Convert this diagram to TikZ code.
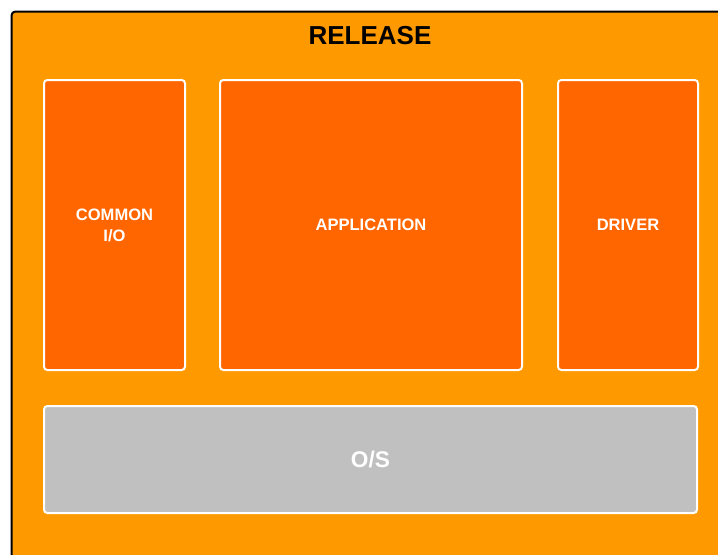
\documentclass[tikz,border=0pt]{standalone}
\usepackage{fontspec}
\setmainfont{Liberation Sans}
\usepackage{xcolor}
\usetikzlibrary{positioning}
\definecolor{relorange}{HTML}{FF9900}
\definecolor{partorange}{HTML}{FF6600}
\definecolor{osgray}{HTML}{C0C0C0}
\tikzset{
    rel frame/.style={draw=black, line width=1.5pt, fill=relorange, rounded corners=3pt},
    rel title/.style={font=\fontsize{19.5}{23}\selectfont\bfseries, text=black},
    rel part/.style={
        draw=white,
        line width=1.5pt,
        rounded corners=2.5pt,
        fill=partorange,
        minimum width=105.75pt,
        minimum height=217.5pt,
        align=center,
        text=white,
        inner sep=0pt,
        font=\fontsize{12.4}{15.8}\selectfont\bfseries
    },
    rel os/.style={rel part, fill=osgray, font=\fontsize{17}{20}\selectfont\bfseries}
}

\begin{document}
\begin{tikzpicture}[x=0.75pt, y=-0.75pt]
\useasboundingbox (0,0) rectangle (718,554);
% outer release frame
\draw[rel frame] (11.5,11.5) rectangle (740,580);
\node[rel title] (title) at (370,36) {RELEASE};

% parts
\node[rel part, minimum width=226.5pt] (app) at (371,225) {APPLICATION};
\node[rel part, left=24.75pt of app] (cio) {COMMON\\I/O};
\node[rel part, right=25.5pt of app, minimum width=105pt] (drv) {DRIVER};
\node[rel os, minimum width=489.75pt, minimum height=80.25pt] (os) at (370.5,459.5) {O/S};
\end{tikzpicture}
\end{document}
